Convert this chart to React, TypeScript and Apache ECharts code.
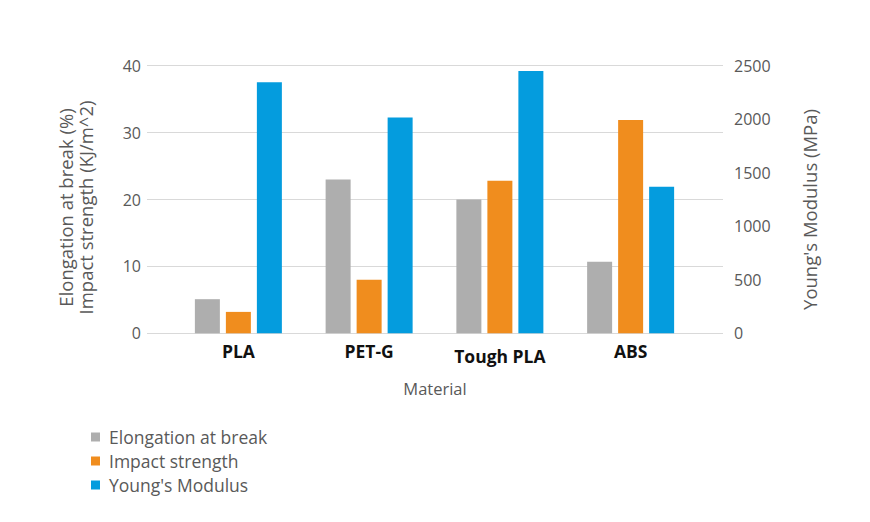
import React, { useEffect, useRef } from "react";
import * as echarts from "echarts";

const categories = ["PLA", "PET-G", "Tough PLA", "ABS"];
const elongation = [5.1, 23, 20, 10.7];
const impact = [3.2, 8, 22.8, 31.9];
const youngs = [2345, 2015, 2450, 1370];
const leftTicks = { min: 0, max: 40, interval: 10 };
const rightTicks = { min: 0, max: 2500, interval: 500 };

const FONT = "'Open Sans', sans-serif";
const GREY_TEXT = "#595959";

export default function App() {
  const ref = useRef<HTMLDivElement>(null);
  useEffect(() => {
    document.body.style.margin = "0";
    const chart = echarts.init(ref.current!, null, { renderer: "svg" });
    const top = 65.7;
    const bottom = 522 - 333.3;
    chart.setOption({
      animation: false,
      textStyle: { fontFamily: FONT },
      grid: [
        { left: 173, right: 174, top, bottom },
        { left: 147, right: 147, top, bottom },
      ],
      legend: {
        orient: "vertical",
        left: 86,
        top: 423,
        itemWidth: 9,
        itemHeight: 9,
        itemGap: 6,
        icon: "rect",
        textStyle: { fontSize: 17.5, color: GREY_TEXT, fontFamily: FONT, padding: [0, 0, 0, 4] },
      },
      xAxis: [
        {
          type: "category",
          gridIndex: 0,
          data: categories,
          axisLine: { show: false },
          axisTick: { show: false },
          axisLabel: {
            interval: 0,
            hideOverlap: false,
            margin: 9,
            fontSize: 17.5,
            fontWeight: "bold",
            color: "#111111",
            fontFamily: FONT,
            formatter: (v: string) => (v === "Tough PLA" ? `{d|${v}}` : `{n|${v}}`),
            rich: {
              n: { fontSize: 17.5, fontWeight: "bold", color: "#111111", fontFamily: FONT },
              d: { fontSize: 17.5, fontWeight: "bold", color: "#111111", fontFamily: FONT, padding: [5, 0, 0, 0] },
            },
          },
        },
        {
          type: "value",
          gridIndex: 1,
          min: 0,
          max: 1,
          axisLine: { show: false },
          axisTick: { show: false },
          axisLabel: { show: false },
          splitLine: { show: false },
          name: "Material",
          nameLocation: "middle",
          nameGap: 47,
          nameTextStyle: { fontSize: 16.5, color: GREY_TEXT, fontFamily: FONT },
        },
      ],
      yAxis: [
        {
          type: "value",
          gridIndex: 0,
          ...leftTicks,
          show: false,
          splitLine: { show: false },
        },
        {
          type: "value",
          gridIndex: 0,
          ...rightTicks,
          show: false,
          splitLine: { show: false },
        },
        {
          type: "value",
          gridIndex: 1,
          position: "left",
          ...leftTicks,
          axisLine: { show: false },
          axisTick: { show: false },
          axisLabel: { fontSize: 16, color: GREY_TEXT, margin: 6, fontFamily: FONT },
          splitLine: { show: true, lineStyle: { color: "#D9D9D9", width: 1 } },
          name: "Elongation at break (%)\nImpact strength (KJ/m^2)",
          nameLocation: "middle",
          nameGap: 52,
          nameTextStyle: {
            fontSize: 18.5,
            color: GREY_TEXT,
            lineHeight: 20,
            fontFamily: FONT,
            padding: [0, 16, 0, 0],
          },
        },
        {
          type: "value",
          gridIndex: 1,
          position: "right",
          ...rightTicks,
          axisLine: { show: false },
          axisTick: { show: false },
          axisLabel: {
            fontSize: 16,
            color: GREY_TEXT,
            margin: 11,
            fontFamily: FONT,
            formatter: (v: number) => String(v),
          },
          splitLine: { show: false },
          name: "Young's Modulus (MPa)",
          nameLocation: "middle",
          nameGap: 77,
          nameTextStyle: {
            fontSize: 18.5,
            color: GREY_TEXT,
            fontFamily: FONT,
            padding: [0, 20, 0, 0],
          },
        },
      ],
      series: [
        {
          name: "Elongation at break",
          type: "bar",
          xAxisIndex: 0,
          yAxisIndex: 0,
          data: elongation,
          barWidth: 25,
          barGap: "24%",
          itemStyle: { color: "#AEAEAE" },
        },
        {
          name: "Impact strength",
          type: "bar",
          xAxisIndex: 0,
          yAxisIndex: 0,
          data: impact,
          barWidth: 25,
          barGap: "24%",
          itemStyle: { color: "#F08D1E" },
        },
        {
          name: "Young's Modulus",
          type: "bar",
          xAxisIndex: 0,
          yAxisIndex: 1,
          data: youngs,
          barWidth: 25,
          barGap: "24%",
          itemStyle: { color: "#049CDE" },
        },
      ],
    });
    return () => chart.dispose();
  }, []);
  return <div ref={ref} style={{ width: 870, height: 522 }} />;
}
